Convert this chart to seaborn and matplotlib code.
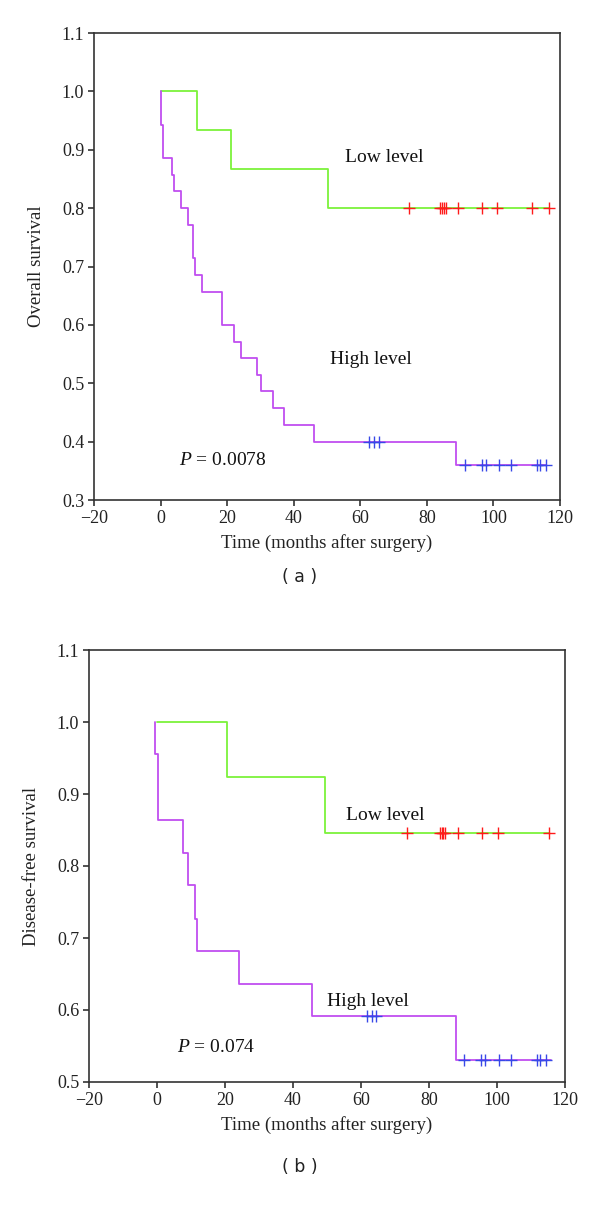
import matplotlib
matplotlib.use('Agg')
import numpy as np
import seaborn as sns
import matplotlib.pyplot as plt

# panel (a): overall survival
a_low_t = [0, 11.0, 21.3, 50.4, 116.6]
a_low_s = [1.0, 0.933, 0.867, 0.8, 0.8]
a_low_cens = [74.5, 84.0, 84.6, 85.2, 85.8, 89.5, 96.5, 101.1, 111.6, 116.6]

a_high_t = [0, 0, 0.6, 3.4, 4.1, 6.2, 8.3, 9.6, 10.3, 12.4, 18.6, 22.0, 24.1,
            28.9, 30.2, 33.8, 37.2, 46.2, 88.9, 115.9]
a_high_s = [1.0, 0.943, 0.886, 0.857, 0.829, 0.8, 0.771, 0.714, 0.686, 0.657,
            0.6, 0.571, 0.543, 0.514, 0.486, 0.457, 0.429, 0.4, 0.36, 0.36]
a_high_cens = [62.5, 64.0, 65.5, 91.5, 96.5, 97.7, 101.8, 105.3, 113.1, 113.9, 115.9]

# panel (b): disease-free survival
b_low_t = [0, 20.6, 49.4, 115.2]
b_low_s = [1.0, 0.923, 0.846, 0.846]
b_low_cens = [73.5, 83.1, 83.7, 84.2, 84.8, 88.6, 95.5, 100.4, 115.2]

b_high_t = [-0.5, -0.5, 0.2, 7.6, 9.1, 11.1, 11.9, 24.1, 45.5, 87.8, 116.0]
b_high_s = [1.0, 0.955, 0.864, 0.818, 0.773, 0.727, 0.682, 0.636, 0.591, 0.53, 0.53]
b_high_cens = [61.9, 63.2, 64.5, 90.4, 95.3, 96.6, 100.5, 104.0, 111.9, 112.6, 114.4]

GREEN = '#7cf23a'
PURPLE = '#c04ef0'
RED = '#ff1a1a'
BLUE = '#3848e8'

sns.set_style('white')
plt.rcParams['font.family'] = ['Liberation Serif', 'DejaVu Serif']
plt.rcParams['mathtext.fontset'] = 'custom'
plt.rcParams['mathtext.it'] = 'Liberation Serif:italic'
plt.rcParams['mathtext.rm'] = 'Liberation Serif'


def step_value(t, times, surv):
    idx = np.searchsorted(times, t, side='right') - 1
    return np.asarray(surv)[idx]


def km_panel(ax, low_t, low_s, low_c, high_t, high_s, high_c, ylim, yticks,
             ylabel, ptext, low_pos, high_pos, p_pos):
    sns.lineplot(x=low_t, y=low_s, drawstyle='steps-post', color=GREEN,
                 lw=1.3, ax=ax, estimator=None, sort=False)
    sns.lineplot(x=high_t, y=high_s, drawstyle='steps-post', color=PURPLE,
                 lw=1.3, ax=ax, estimator=None, sort=False)
    ax.plot(low_c, step_value(low_c, low_t, low_s), '+', color=RED, ms=9, mew=1.0)
    ax.plot(high_c, step_value(high_c, high_t, high_s), '+', color=BLUE, ms=9, mew=1.0)

    ax.set_xlim(-20, 120)
    ax.set_ylim(*ylim)
    ax.set_xticks(np.arange(-20, 121, 20))
    ax.set_xticklabels(['\u221220'] + [str(v) for v in range(0, 121, 20)])
    ax.set_yticks(yticks)
    ax.set_yticklabels([f'{v:.1f}' for v in yticks])
    ax.tick_params(direction='out', length=4, width=1.1, labelsize=13,
                   colors='#222222', left=True, bottom=True, pad=3)
    for s in ax.spines.values():
        s.set_color('#333333')
        s.set_linewidth(1.2)
    ax.set_xlabel('Time (months after surgery)', fontsize=13.5, color='#222222', labelpad=5)
    ax.set_ylabel(ylabel, fontsize=13.5, color='#222222', labelpad=12)
    ax.text(*low_pos, 'Low level', fontsize=14, va='center', color='#111111')
    ax.text(*high_pos, 'High level', fontsize=14, va='center', color='#111111')
    ax.text(*p_pos, ptext, fontsize=14, va='center', color='#111111')


fig = plt.figure(figsize=(6, 12.05), dpi=100)
ax1 = fig.add_axes([94 / 600, 1 - 500 / 1205, 466 / 600, 467 / 1205])
ax2 = fig.add_axes([89 / 600, 1 - 1082 / 1205, 476 / 600, 432 / 1205])

km_panel(ax1, a_low_t, a_low_s, a_low_cens, a_high_t, a_high_s, a_high_cens,
         (0.3, 1.1), np.arange(0.3, 1.101, 0.1), 'Overall survival',
         '$P$ = 0.0078', (55.5, 0.886), (51, 0.541), (5.5, 0.368))
km_panel(ax2, b_low_t, b_low_s, b_low_cens, b_high_t, b_high_s, b_high_cens,
         (0.5, 1.1), np.arange(0.5, 1.101, 0.1), 'Disease-free survival',
         '$P$ = 0.074', (55.5, 0.870), (50, 0.6125), (6, 0.548))

fig.text(0.5, 1 - 577 / 1205, '( a )', ha='center', va='center', fontsize=12.5,
         family=['DejaVu Sans'], color='#222222')
fig.text(0.5, 1 - 1167 / 1205, '( b )', ha='center', va='center', fontsize=12.5,
         family=['DejaVu Sans'], color='#222222')

fig.savefig('out.png', dpi=100)
